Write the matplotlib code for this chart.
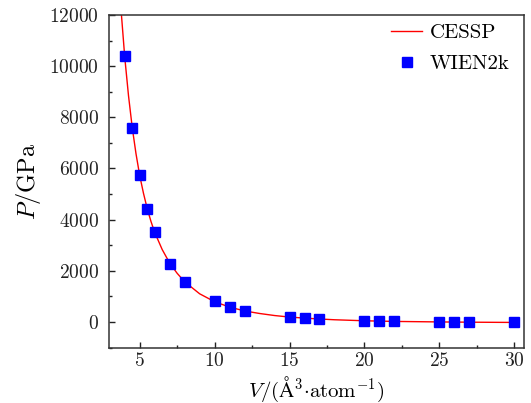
import matplotlib
matplotlib.use("Agg")
import matplotlib.pyplot as plt
from matplotlib.ticker import MultipleLocator

plt.rcParams["font.family"] = ["cmr10"]
plt.rcParams["mathtext.fontset"] = "cm"
plt.rcParams["axes.formatter.use_mathtext"] = True

# WIEN2k calculated points
v_wien = [4, 4.5, 5, 5.5, 6, 7, 8, 10, 11, 12, 15, 16, 17, 20, 21, 22, 25, 26, 27, 30]
p_wien = [10380, 7600, 5730, 4420, 3500, 2270, 1560, 800, 600, 440,
          200, 160, 115, 50, 40, 25, 5, 0, -5, -15]

# CESSP equation-of-state curve samples
v_cessp = [3.78, 4.0, 4.25, 4.5, 4.75, 5.0, 5.25, 5.5, 5.75, 6.0, 6.5, 7.0, 7.5, 8.0,
           9.0, 10.0, 11.0, 12.0, 13.0, 14.0, 15.0, 16.0, 17.0, 18.0, 20.0, 22.0,
           25.0, 27.0, 30.0]
p_cessp = [12000, 10350, 8850, 7600, 6580, 5720, 5030, 4430, 3930, 3500, 2830, 2300,
           1900, 1570, 1100, 790, 580, 430, 330, 250, 190, 150, 115, 85, 45, 20,
           0, -10, -20]

fig = plt.figure(figsize=(5.31, 4.03), dpi=100)
ax = fig.add_axes([0.2053, 0.1377, 0.7815, 0.8251])

ax.plot(v_cessp, p_cessp, color="#ff0000", lw=1.0, label="CESSP", zorder=2)
ax.plot(v_wien, p_wien, ls="none", marker="s", ms=7.5, color="#0000ff",
        label="WIEN2k", zorder=3)

ax.set_xlim(2.95, 30.65)
ax.set_ylim(-1000, 12000)
ax.xaxis.set_major_locator(MultipleLocator(5))
ax.xaxis.set_minor_locator(MultipleLocator(2.5))
ax.yaxis.set_major_locator(MultipleLocator(2000))
ax.yaxis.set_minor_locator(MultipleLocator(1000))
ax.tick_params(which="both", direction="in", top=False, right=False,
               labelsize=14, colors="#222222", width=1.0)
ax.tick_params(which="major", length=4)
ax.tick_params(which="minor", length=2.5)
ax.tick_params(axis="y", which="major", pad=7)
for s in ax.spines.values():
    s.set_color("#333333")
    s.set_linewidth(1.1)

ax.set_xlabel(r"$V/(\mathrm{\AA}^3{\cdot}\mathrm{atom}^{-1})$", fontsize=15, labelpad=3)
ax.set_ylabel(r"$P/\mathrm{GPa}$", fontsize=17.5, labelpad=5)

ax.legend(loc="upper right", bbox_to_anchor=(0.9855, 1.0), frameon=False,
          fontsize=15, handlelength=1.5, borderaxespad=0.0, handletextpad=0.35,
          labelspacing=0.6)

fig.savefig("out.png", dpi=100)
